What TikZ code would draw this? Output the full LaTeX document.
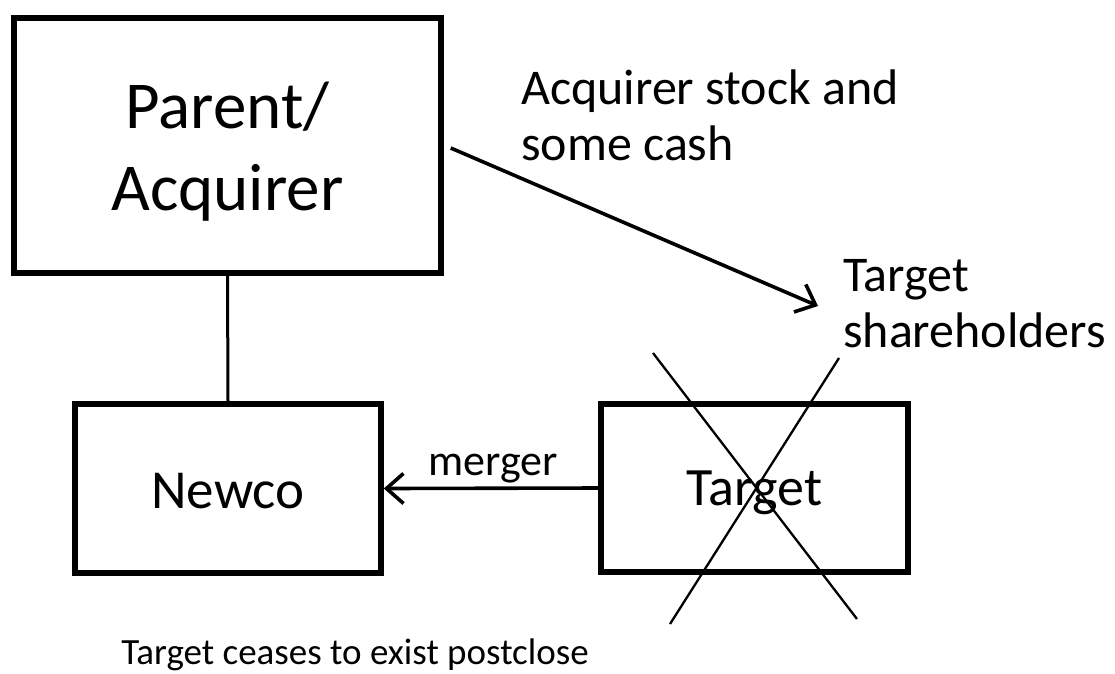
\documentclass[tikz,border=0pt]{standalone}
\usepackage{fontspec}
\setmainfont{Carlito}
\usetikzlibrary{arrows.meta,positioning}
\begin{document}
\begin{tikzpicture}[x=1pt,y=-1pt,
  entity/.style={draw,line width=5.5pt,inner sep=0pt},
  title/.style={inner sep=0pt,align=center},
  caption/.style={inner sep=0pt,align=left},
  flow/.style={line width=3.6pt,-{Straight Barb[length=17pt,width=30pt,line width=3.6pt]}},
  strike/.style={line width=2.3pt}]
  \useasboundingbox (0,0) rectangle (1115,673);
  \fill[white] (0,0) rectangle (1115,673);

  % entity boxes
  \node[entity,minimum width=427pt,minimum height=255pt] (parent) at (227.5,145.5) {};
  \node[entity,minimum width=306pt,minimum height=169pt] (newco) at (228,488.5) {};
  \node[entity,minimum width=307pt,minimum height=168pt] (target) at (754.5,488) {};

  % entity names
  \node[title,font=\fontsize{67}{82}\selectfont] (parentname)
       at ([yshift=-6pt]parent.center) {Parent/\\Acquirer};
  \node[title,font=\fontsize{55}{60}\selectfont] (newconame)
       at ([yshift=-3pt]newco.center) {Newco};
  \node[title,font=\fontsize{54}{60}\selectfont] (targetname)
       at ([yshift=-5pt]target.center) {Target};

  % labels
  \node[caption,anchor=west,font=\fontsize{50}{56}\selectfont] (consid) at (521,115.5)
       {Acquirer stock and\\some cash};
  \node[caption,anchor=west,font=\fontsize{50}{56}\selectfont] (holders) at (843,303.5)
       {Target\\shareholders};
  \node[caption,font=\fontsize{44}{48}\selectfont] (mlabel) at (493,469) {merger};
  \node[caption,font=\fontsize{37}{44}\selectfont] (note) at (355,655)
       {Target ceases to exist postclose};

  % connectors
  \coordinate (paytip) at (818,306);
  \draw[line width=3pt] (parent.south) -- (newco.north);
  \draw[flow] ([xshift=7pt,yshift=-2.5pt]parent.east) -- (paytip);
  \draw[flow] (target.west) -- (newco.east);

  % target struck out
  \draw[strike] (653,353) -- (857,619);
  \draw[strike] (839,358) -- (670,624);
\end{tikzpicture}
\end{document}
